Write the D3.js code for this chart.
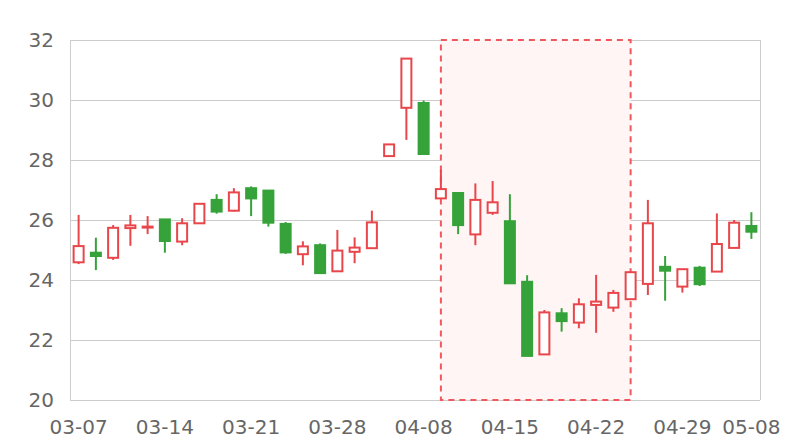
<!DOCTYPE html>
<html><head><meta charset="utf-8">
<script src="https://cdn.jsdelivr.net/npm/d3@7/dist/d3.min.js"></script>
<style>html,body{margin:0;padding:0;background:#fff;}svg{display:block;font-family:"DejaVu Sans",sans-serif;}</style>
</head><body><svg id="c" width="800" height="440"></svg>
<script>
const dates = ["03-07","03-08","03-11","03-12","03-13","03-14","03-15","03-18","03-19","03-20",
"03-21","03-22","03-25","03-26","03-27","03-28","03-29","04-01","04-02","04-03",
"04-08","04-09","04-10","04-11","04-12","04-15","04-16","04-17","04-18","04-19",
"04-22","04-23","04-24","04-25","04-26","04-29","04-30","05-06","05-07","05-08"];
const openVals  = [24.59,24.91,24.74,25.73,25.76,26.02,25.28,25.89,26.67,26.31,
27.06,26.98,25.87,24.86,25.16,24.29,24.94,25.06,28.13,29.74,
29.90,26.72,26.90,25.52,26.24,25.96,23.94,21.52,22.89,22.58,
23.17,23.08,23.36,23.87,24.44,23.78,24.41,24.28,25.07,25.80];
const closeVals = [25.13,24.80,25.74,25.82,25.78,25.30,25.89,26.54,26.28,26.92,
26.72,25.91,24.92,25.12,24.23,24.98,25.08,25.92,28.52,31.38,
28.20,27.03,25.83,26.67,26.59,23.89,21.47,22.92,22.63,23.19,
23.28,23.57,24.26,25.89,24.31,24.36,23.86,25.20,25.91,25.61];
const lowVals   = [24.53,24.33,24.67,25.14,25.53,24.91,25.16,25.89,26.21,26.28,
26.13,25.78,24.87,24.49,24.23,24.29,24.56,25.06,28.13,28.67,
28.20,26.72,25.53,25.16,26.17,23.89,21.47,21.52,22.28,22.39,
22.24,22.94,23.36,23.50,23.31,23.58,23.80,24.28,25.07,25.37];
const highVals  = [26.17,25.41,25.83,26.17,26.13,26.03,26.06,26.54,26.86,27.06,
27.12,27.00,25.93,25.29,25.22,25.67,25.42,26.31,28.52,31.38,
29.98,27.67,26.90,27.22,27.30,26.86,24.16,23.00,23.06,23.39,
24.17,23.67,24.26,26.67,24.80,24.36,24.47,26.22,26.00,26.26];
const yTicks = [20,22,24,26,28,30,32];
const xTickLabels = ["03-07","03-14","03-21","03-28","04-08","04-15","04-22","04-29","05-08"];
const areaRange = ["04-09","04-24"];

const svg = d3.select("#c");
const L=70,R=760,T=40,B=400;
const x = d3.scaleBand().domain(dates).range([L,R]).padding(0);
const cx = d => x(d) + x.bandwidth()/2;
const y = d3.scaleLinear().domain([20,32]).range([B,T]);
const up="#e8464b", down="#35a23a";

// grid
svg.append("g").selectAll("line").data(yTicks).join("line")
  .attr("x1",L).attr("x2",R).attr("y1",d=>y(d)).attr("y2",d=>y(d))
  .attr("stroke","#cccccc").attr("stroke-width",1).attr("shape-rendering","crispEdges");
svg.append("line").attr("x1",L).attr("x2",L).attr("y1",T).attr("y2",B).attr("stroke","#cccccc").attr("shape-rendering","crispEdges");
svg.append("line").attr("x1",R).attr("x2",R).attr("y1",T).attr("y2",B).attr("stroke","#cccccc").attr("shape-rendering","crispEdges");

// mark area
svg.append("rect").attr("x",cx(areaRange[0])).attr("y",T)
  .attr("width",cx(areaRange[1])-cx(areaRange[0])).attr("height",B-T)
  .attr("fill","#fff5f5").attr("stroke","#f0585e").attr("stroke-width",2).attr("stroke-dasharray","6,5");

// y labels
svg.append("g").selectAll("text").data(yTicks).join("text")
  .attr("x",54).attr("y",d=>y(d)).attr("dy","0.36em").attr("text-anchor","end")
  .attr("font-size",20).attr("fill","#666").text(d=>d);
// x labels
svg.append("g").selectAll("text").data(xTickLabels).join("text")
  .attr("x",d=>cx(d)).attr("y",434).attr("text-anchor","middle")
  .attr("font-size",20).attr("fill","#666").text(d=>d);

const data = dates.map((d,i)=>({d,o:openVals[i],c:closeVals[i],l:lowVals[i],h:highVals[i]}));
const g = svg.append("g");
const bw = 10;
g.selectAll("line").data(data).join("line")
  .attr("x1",d=>cx(d.d)).attr("x2",d=>cx(d.d)).attr("y1",d=>y(d.h)).attr("y2",d=>y(d.l))
  .attr("stroke",d=>d.c>=d.o?up:down).attr("stroke-width",2);
g.selectAll("rect").data(data).join("rect")
  .attr("x",d=>cx(d.d)-bw/2).attr("width",bw)
  .attr("y",d=>y(Math.max(d.o,d.c))).attr("height",d=>Math.max(1,Math.abs(y(d.o)-y(d.c))))
  .attr("fill",d=>d.c>=d.o?"#fff":down).attr("stroke",d=>d.c>=d.o?up:down).attr("stroke-width",2);
</script></body></html>
